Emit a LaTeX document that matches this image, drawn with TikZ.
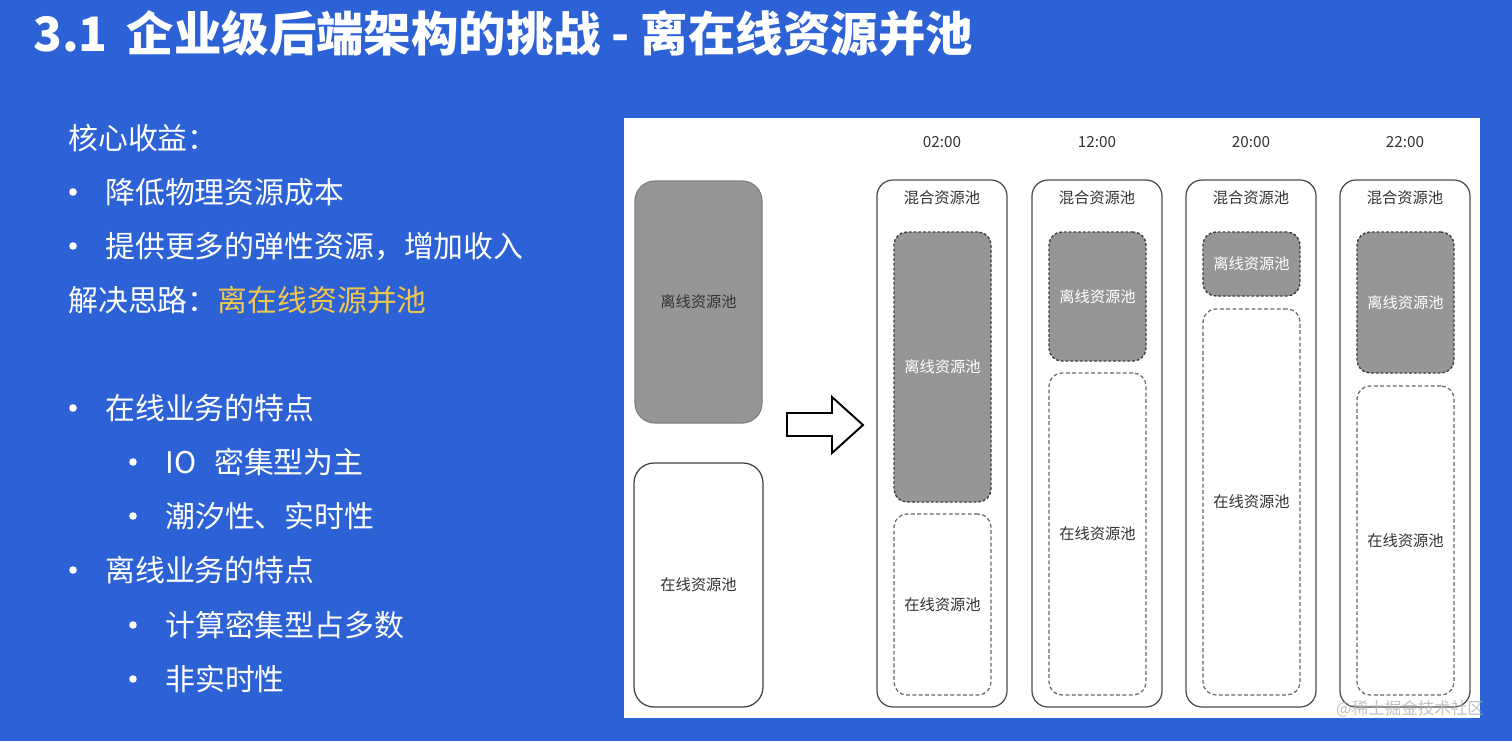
\documentclass[tikz,border=0pt]{standalone}
\usepackage{fontspec}
\setmainfont{Noto Sans CJK SC}
\usetikzlibrary{positioning}
\definecolor{slideblue}{RGB}{44,98,214}
\definecolor{poolgray}{RGB}{150,150,150}
\definecolor{tipyellow}{RGB}{240,198,76}
\tikzset{
  boxsize/.style 2 args={minimum width=(#1)*0.02cm, minimum height=(#2)*0.02cm},
  smalltext/.style={font=\fontsize{8.7}{10}\selectfont, text=black!80, inner sep=0pt},
  bigpool/.style={rectangle, rounded corners=0.4cm, line width=0.7pt, smalltext},
  mixpool/.style={rectangle, rounded corners=0.32cm, draw=black!70, fill=white, line width=0.7pt},
  offpool/.style={rectangle, rounded corners=0.26cm, draw=black!75, fill=poolgray, line width=0.8pt,
    dash pattern=on 1.6pt off 1.1pt, smalltext, text=white},
  onpool/.style={rectangle, rounded corners=0.26cm, draw=black!60, line width=0.7pt,
    dash pattern=on 2.2pt off 1.4pt, smalltext},
  slidetext/.style={anchor=west, text=white, font=\fontsize{17}{20}\selectfont, inner sep=0pt}
}
\begin{document}
\begin{tikzpicture}[x=0.02cm, y=-0.02cm]
  \fill[slideblue] (0,0) rectangle (1512,741);% slide background
  \node[anchor=west, text=white, inner sep=0pt, font=\fontsize{27}{31}\selectfont\bfseries] (title) at (33,33)
    {3.1\hspace{0.4em}企业级后端架构的挑战 - 离在线资源并池};

  % left column of text
  \node[slidetext] (gain) at (68,138) {核心收益：};
  \node[slidetext] (idea) at (68,300) {解决思路：\textcolor{tipyellow}{离在线资源并池}};
  \foreach \n/\y/\txt in {1/192/降低物理资源成本, 2/246/{提供更多的弹性资源，增加收入}, 3/408/在线业务的特点, 4/570/离线业务的特点} {
    \fill[white] (73,\y) circle (3.8);
    \node[slidetext] (item\n) at (105,\y) {\txt};
  }
  \foreach \n/\y/\txt in {1/462/{IO\hspace{0.6em}密集型为主}, 2/516/潮汐性、实时性, 3/625/计算密集型占多数, 4/679/非实时性} {
    \fill[white] (133,\y) circle (3.8);
    \node[slidetext] (sub\n) at (165,\y) {\txt};
  }

  % white panel with the pools
  \fill[white] (624,118) rectangle (1480,718);
  \node[bigpool, fill=poolgray, draw=poolgray!85!black, boxsize={127}{242}] (offline) at (698.5,302) {离线资源池};
  \node[bigpool, draw=black!75, boxsize={129}{244}] (online) at (698.5,585) {在线资源池};
  \draw[line width=1.1pt, fill=white] (787,413) -- (832,413) -- (832,397) -- (863,425)
    -- (832,453) -- (832,436) -- (787,436) -- cycle;% block arrow

  \foreach \n/\x/\t/\ob/\ot in {1/877/02:00/502/514, 2/1032/12:00/361/373, 3/1186/20:00/296/309, 4/1340/22:00/373/386} {
    \node[smalltext] (time\n) at (\x+65,142) {\t};
    \node[mixpool, boxsize={130}{527}] (mix\n) at (\x+65,443.5) {};
    \node[smalltext] (mixlabel\n) at (\x+65,198) {混合资源池};
    \node[offpool, boxsize={97}{\ob-232}] (off\n) at ({\x+65.5},{(232+\ob)/2}) {离线资源池};
    \node[onpool, boxsize={97}{695-\ot}] (on\n) at ({\x+65.5},{(\ot+695)/2}) {在线资源池};
  }

  \node[text=black!30, opacity=0.8, inner sep=0pt, font=\fontsize{9.4}{11}\selectfont] (mark) at (1410,709) {@稀土掘金技术社区};
\end{tikzpicture}
\end{document}
